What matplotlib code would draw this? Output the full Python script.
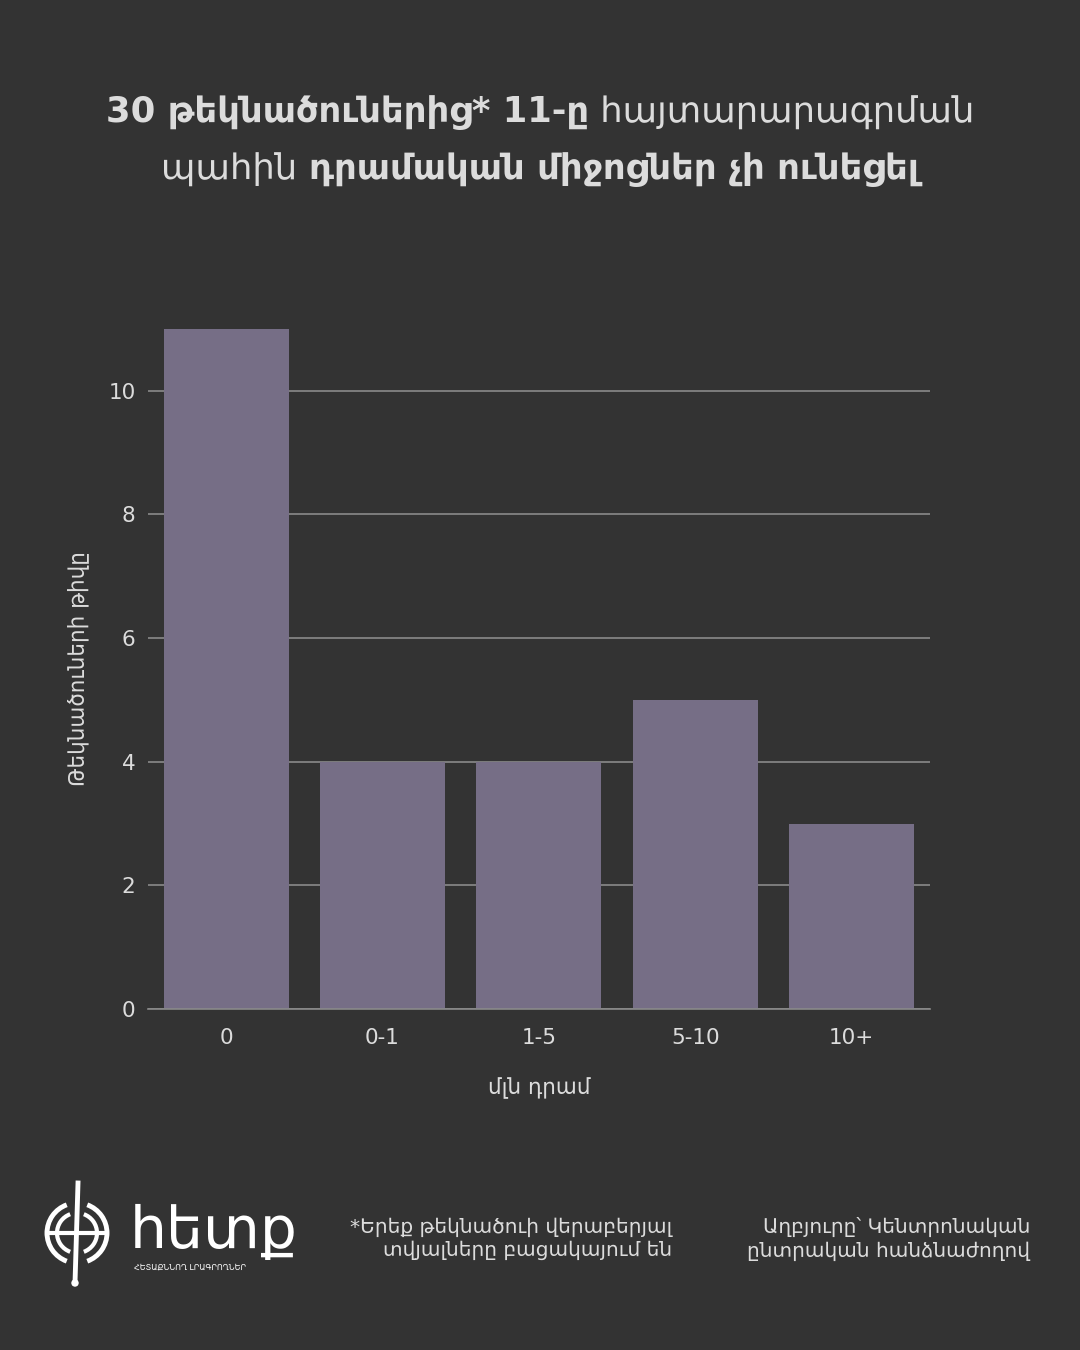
import matplotlib
matplotlib.use("Agg")
import matplotlib.pyplot as plt
from matplotlib.patches import Circle, Arc

# data
categories = ["0", "0-1", "1-5", "5-10", "10+"]
counts = [11, 4, 4, 5, 3]

BG = "#333333"
BAR = "#766e86"
TXT = "#dcdcdc"
GRID = "#8a8a8a"

plt.rcParams["font.family"] = ["DejaVu Sans"]

fig = plt.figure(figsize=(10.8, 13.5), dpi=100, facecolor=BG)
ax = fig.add_axes([0.137, 0.2526, 0.724, 0.5037], facecolor=BG)

ax.bar(range(len(categories)), counts, width=0.8, color=BAR, zorder=2)
ax.set_xlim(-0.5, 4.5)
ax.set_ylim(0, 11)
ax.set_yticks([0, 2, 4, 6, 8, 10])
ax.set_xticks(range(len(categories)))
ax.set_xticklabels(categories)
ax.grid(axis="y", color=GRID, linewidth=1.2, zorder=0)
for s in ["top", "right", "left"]:
    ax.spines[s].set_visible(False)
ax.spines["bottom"].set_color(GRID)
ax.spines["bottom"].set_linewidth(1.2)
ax.tick_params(axis="y", length=0, pad=9, labelsize=15.5, labelcolor=TXT)
ax.tick_params(axis="x", length=0, pad=14, labelsize=15.5, labelcolor=TXT)
ax.set_xlabel("մլն դրամ", fontsize=15.5, color=TXT, labelpad=21)
ax.set_ylabel("Թեկնածուների թիվը", fontsize=15.5, color=TXT, labelpad=14)

# title with mixed weights
lines = [
    [("30 թեկնածուներից* 11-ը", "bold"), (" հայտարարագրման", "normal")],
    [("պահին ", "normal"), ("դրամական միջոցներ չի ունեցել", "bold")],
]
ys = [113, 170]
fig.canvas.draw()
r = fig.canvas.get_renderer()
for parts, ypix in zip(lines, ys):
    texts = []
    for s, w in parts:
        t = fig.text(0, 1 - ypix / 1350, s, fontsize=25.5, fontweight=w, color=TXT,
                     va="center", ha="left")
        texts.append(t)
    widths = [t.get_window_extent(r).width for t in texts]
    x = (1080 - sum(widths)) / 2
    for t, wd in zip(texts, widths):
        t.set_x(x / 1080)
        x += wd

# footer notes
fig.text(672 / 1080, 1 - 1239 / 1350, "*Երեք թեկնածուի վերաբերյալ\nտվյալները բացակայում են",
         ha="right", va="center", fontsize=14.5, color=TXT, linespacing=1.25)
fig.text(1030 / 1080, 1 - 1239 / 1350, "Աղբյուրը՝ Կենտրոնական\nընտրական հանձնաժողով",
         ha="right", va="center", fontsize=14.5, color=TXT, linespacing=1.25)

# logo
lax = fig.add_axes([40 / 1080, 1 - 1295 / 1350, 280 / 1080, 125 / 1350], facecolor="none")
lax.set_xlim(0, 280)
lax.set_ylim(0, 125)
lax.axis("off")
cx, cy = 37, 62
for rad, th in [(30, 3.5), (20, 3)]:
    lax.add_patch(Arc((cx, cy), 2 * rad, 2 * rad, theta1=110, theta2=250, color="white", lw=th))
    lax.add_patch(Arc((cx, cy), 2 * rad, 2 * rad, theta1=-70, theta2=70, color="white", lw=th))
lax.plot([cx - 2, cx + 1], [12, 112], color="white", lw=3.5)
lax.plot([cx - 30, cx + 30], [cy, cy], color="white", lw=3)
lax.add_patch(Circle((cx - 2, 12), 3, color="white"))
lax.text(90, 64, "հետք", fontsize=42, color="white", va="center", ha="left")
lax.text(94, 28, "ՀԵՏԱՔՆՆՈՂ ԼՐԱԳՐՈՂՆԵՐ", fontsize=5.8, color="white", va="center", ha="left")

fig.savefig("out.png", dpi=100, facecolor=BG)
